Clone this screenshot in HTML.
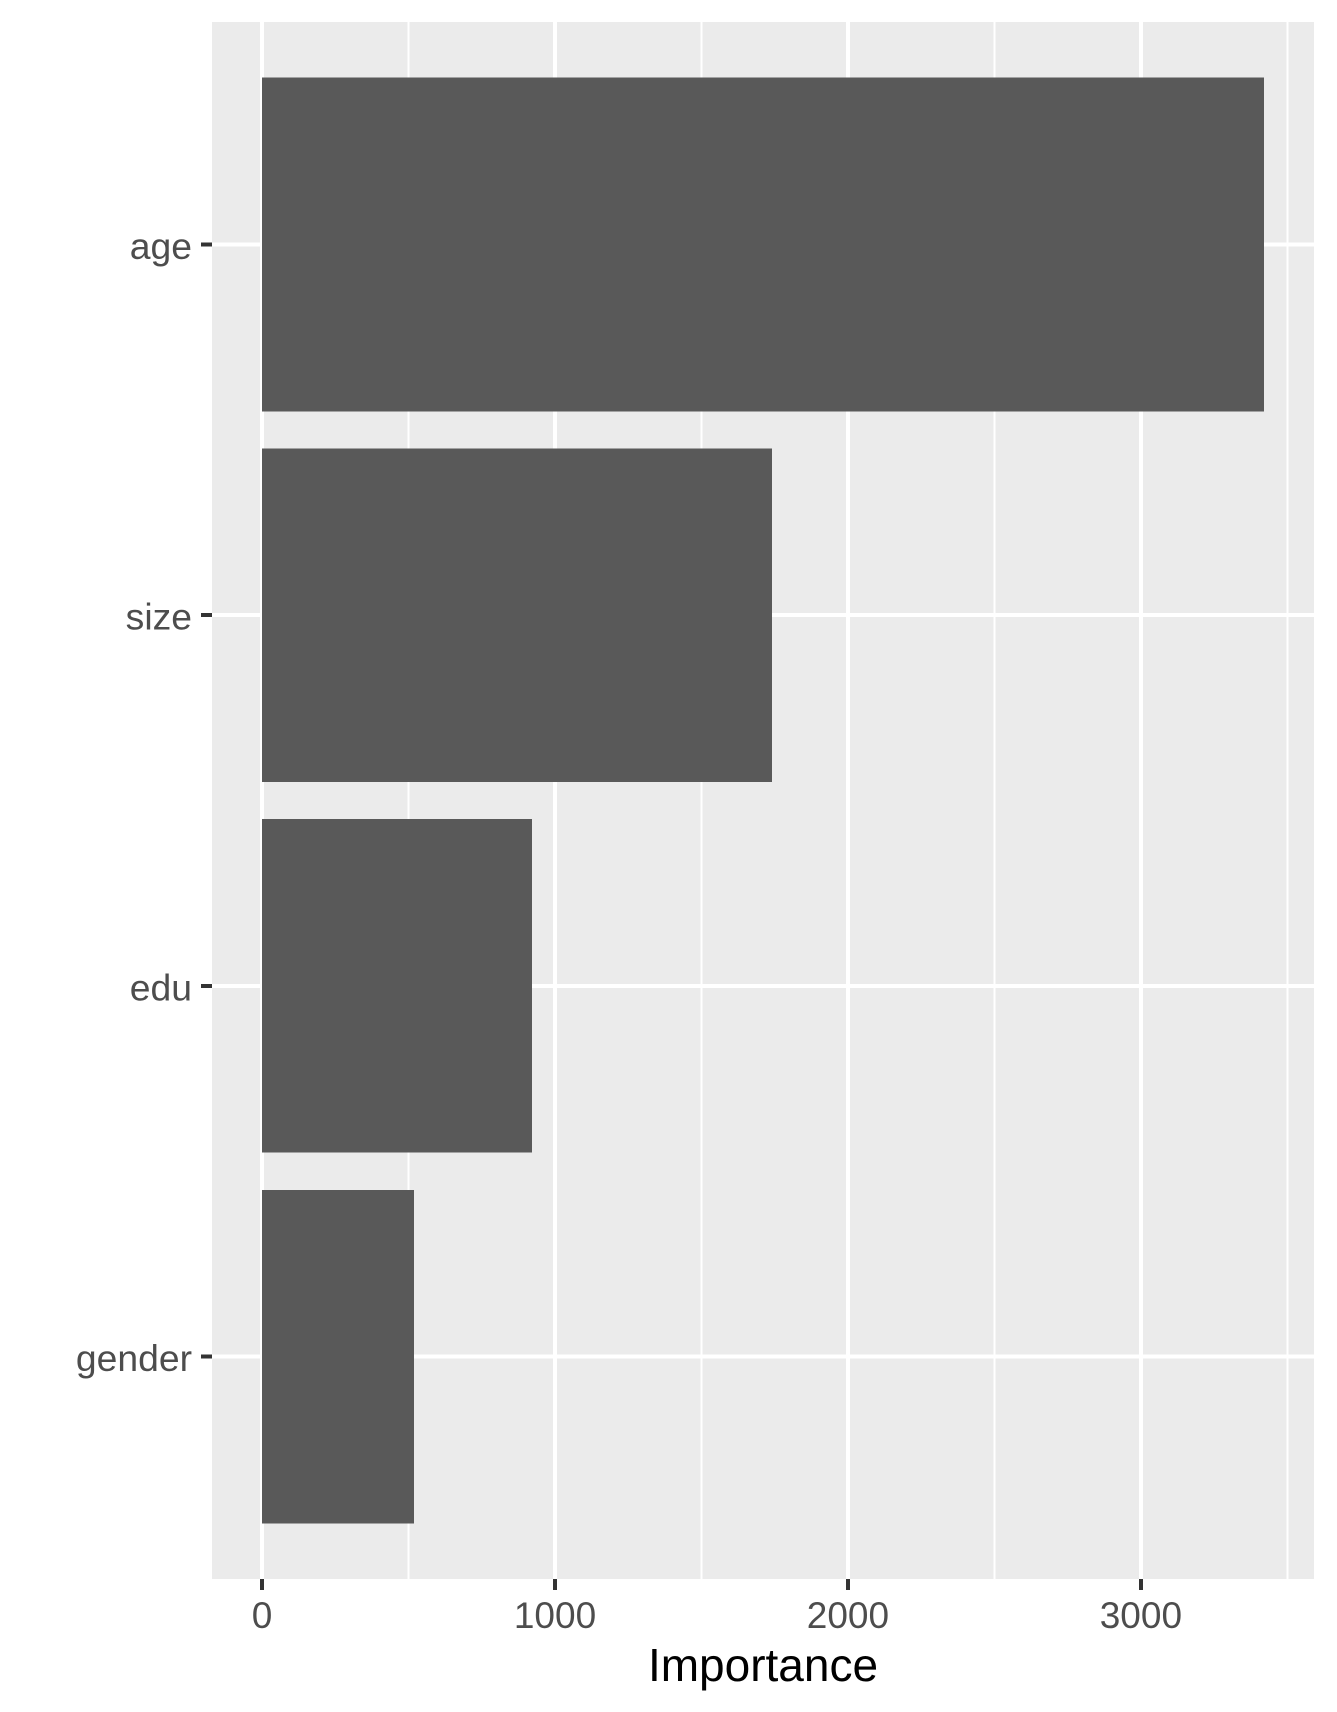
<!DOCTYPE html>
<html lang="en">
<head>
<meta charset="utf-8">
<title>Variable importance</title>
<style>
html,body{margin:0;padding:0;background:#fff;}
#chart{display:block;width:1337px;height:1712px;}
text{font-family:"Liberation Sans",Arial,sans-serif;}
</style>
</head>
<body>
<svg id="chart" xmlns="http://www.w3.org/2000/svg" width="1337" height="1712" viewBox="0 0 1337 1712">
  <rect x="0" y="0" width="1337" height="1712" fill="#ffffff"/>
  <rect x="212" y="22" width="1102" height="1557" fill="#ebebeb"/>
  <g id="grid-minor"></g>
  <g id="grid-major"></g>
  <g id="bars"></g>
  <g id="x-axis"></g>
  <g id="y-axis"></g>
  <text x="763" y="1681" font-size="46" fill="#000000" text-anchor="middle">Importance</text>
</svg>
<script>
const categories = ["age", "size", "edu", "gender"];
const importance = [3420, 1741, 922, 519];
const xTickValues = [0, 1000, 2000, 3000];
const xTickLabels = ["0", "1000", "2000", "3000"];
const xMinorValues = [500, 1500, 2500, 3500];

const panel = { left: 212, right: 1314, top: 22, bottom: 1579 };
const xDomain = [-171, 3591];
const barWidthFraction = 0.9;
const svgNS = "http://www.w3.org/2000/svg";

function xScale(value) {
  return panel.left + (value - xDomain[0]) / (xDomain[1] - xDomain[0]) * (panel.right - panel.left);
}
function yStep() {
  return (panel.bottom - panel.top) / (categories.length - 1 + 1.2);
}
function yScale(index) {
  return panel.top + (index + 0.6) * yStep();
}
function make(tag, attrs, parent) {
  const el = document.createElementNS(svgNS, tag);
  for (const k in attrs) el.setAttribute(k, attrs[k]);
  parent.appendChild(el);
  return el;
}

const gridMinor = document.getElementById("grid-minor");
const gridMajor = document.getElementById("grid-major");
const barsGroup = document.getElementById("bars");
const xAxis = document.getElementById("x-axis");
const yAxis = document.getElementById("y-axis");

xMinorValues.forEach(function (v) {
  const x = xScale(v);
  const line = make("line", { x1: x, x2: x, y1: panel.top, y2: panel.bottom, stroke: "#ffffff", "stroke-width": 2, "shape-rendering": "crispEdges" }, gridMinor);
  
  
});

xTickValues.forEach(function (v) {
  const x = xScale(v);
  const line = make("line", { x1: x, x2: x, y1: panel.top, y2: panel.bottom, stroke: "#ffffff", "stroke-width": 4, "shape-rendering": "crispEdges" }, gridMajor);
  
  
});

categories.forEach(function (c, i) {
  const y = yScale(i);
  const line = make("line", { x1: panel.left, x2: panel.right, y1: y, y2: y, stroke: "#ffffff", "stroke-width": 4, "shape-rendering": "crispEdges" }, gridMajor);
  
  
});

categories.forEach(function (c, i) {
  const h = yStep() * barWidthFraction;
  const x0 = xScale(0);
  const bar = make("rect", { x: x0, y: yScale(i) - h / 2, width: xScale(importance[i]) - x0, height: h, fill: "#595959", "shape-rendering": "crispEdges" }, barsGroup);
  
  
});

xTickValues.forEach(function (v, i) {
  const x = xScale(v);
  const tick = make("line", { x1: x, x2: x, y1: panel.bottom, y2: panel.bottom + 11, stroke: "#333333", "stroke-width": 4, "shape-rendering": "crispEdges" }, xAxis);
  
  
  const label = make("text", { x: x, y: 1628, "font-size": 37, fill: "#4d4d4d", "text-anchor": "middle" }, xAxis);
  label.textContent = xTickLabels[i];
  
  
});

categories.forEach(function (c, i) {
  const y = yScale(i);
  const tick = make("line", { x1: panel.left - 11, x2: panel.left, y1: y, y2: y, stroke: "#333333", "stroke-width": 4, "shape-rendering": "crispEdges" }, yAxis);
  
  
  const label = make("text", { x: 192, y: y + 14.5, "font-size": 37.3, fill: "#4d4d4d", "text-anchor": "end" }, yAxis);
  label.textContent = c;
  
  
});
</script>
</body>
</html>
